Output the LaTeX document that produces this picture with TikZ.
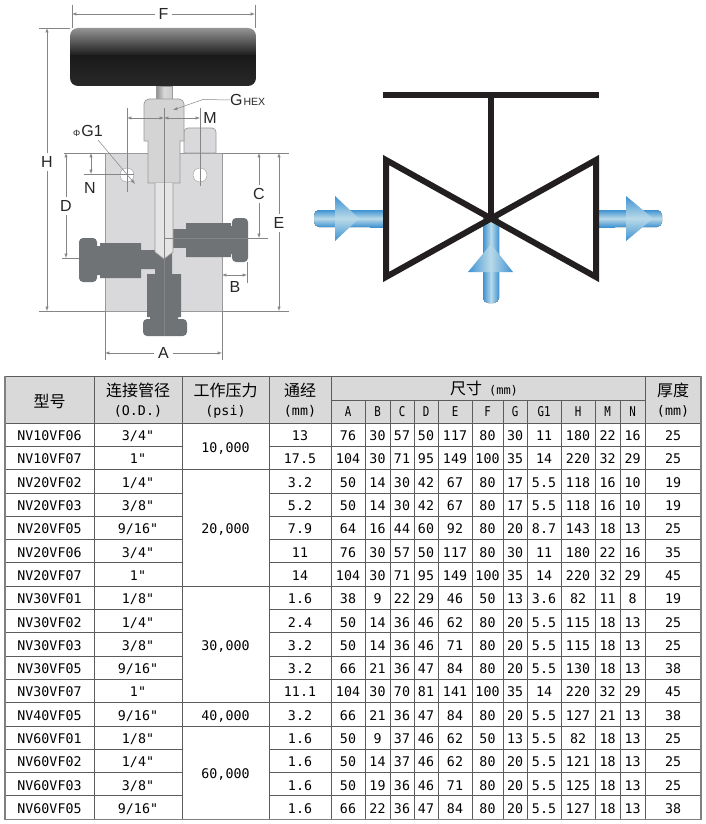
\documentclass[tikz,border=0pt]{standalone}
\usepackage{fontspec}
\setmainfont{Liberation Sans}
\newfontfamily\cjkfont{Noto Sans CJK SC}
\newfontfamily\tabfont{DejaVu Sans Mono}
\usetikzlibrary{arrows.meta}
\definecolor{bodygray}{HTML}{D9D9DB}
\definecolor{edgegray}{HTML}{9A9A9A}
\definecolor{dimgray}{HTML}{858585}
\definecolor{fitgray}{HTML}{6F7375}
\definecolor{gridgray}{HTML}{5C5C5C}
\definecolor{headgray}{HTML}{D9D9D9}
\definecolor{pipeblue}{HTML}{3F92D2}
\definecolor{pipelight}{HTML}{B9DAE8}
\definecolor{symblack}{HTML}{231F20}
\tikzset{
  dimline/.style={latex-latex,draw=dimgray,line width=.5pt},
  extline/.style={draw=dimgray,line width=.5pt},
  dimlabel/.style={fill=white,inner xsep=4pt,inner ysep=3pt,text=black!85,font=\fontsize{16}{16}\selectfont},
  freelabel/.style={inner sep=0pt,text=black!85,font=\fontsize{16}{16}\selectfont},
  fitting/.style={fill=fitgray,draw=none},
  bodypart/.style={fill=bodygray,draw=edgegray,line width=.7pt},
  gridline/.style={draw=gridgray,line width=.7pt},
  cellnum/.style={inner sep=0pt,text height=10pt,text depth=0pt,font=\tabfont\fontsize{13.3}{15}\selectfont},
  headcjk/.style={inner sep=0pt,font=\cjkfont\fontsize{16}{18}\selectfont},
  headcol/.style={inner sep=0pt,font=\tabfont\fontsize{13.5}{15}\selectfont},
  pipeh/.style={top color=pipeblue,bottom color=pipeblue,middle color=pipelight},
  pipev/.style={left color=pipeblue,right color=pipeblue,middle color=pipelight},
  symline/.style={draw=symblack,line width=6pt,miter limit=10},
}
\def\colx{{49.5,138,300,348,377.5,402,426,455,487.5,515,544,578,607.5,632.5,673}}
\begin{document}
\begin{tikzpicture}[x=1pt,y=-1pt]
\useasboundingbox (0,0) rectangle (705,824);
\fill[white] (0,0) rectangle (705,824);

\draw[bodypart] (105,153) rectangle (222,311);
\draw[bodypart] (184,153) -- (184,132) arc[start angle=180,end angle=270,radius=4] -- (212,128) arc[start angle=270,end angle=360,radius=4] -- (216,153) -- cycle;
\shade[left color=black!45,right color=black!20,middle color=black!15,draw=edgegray] (156,86) rectangle (172,99);
\draw[bodypart,fill=black!17] (148,141) -- (144,141) -- (144,104) arc[start angle=180,end angle=270,radius=5] -- (179,99) arc[start angle=270,end angle=360,radius=5] -- (184,141) -- (180,141) -- (180,183) -- (148,183) -- cycle;
\fill[fitgray] (140,250) rectangle (156,269) (155,250) rectangle (172,275);
\fill[fitgray] (173,229) rectangle (186,248);
\draw[bodypart,fill=black!10] (155,183) -- (155,252) -- (164,259) -- (173,252) -- (173,183);
\fill[fitting] (100,243) rectangle (141,278) (96,246) rectangle (101,275);
\fill[fitting,rounded corners=4pt] (79,238) rectangle (97,282);
\fill[fitting] (186,223) rectangle (231,257) (230,226) rectangle (234,254);
\fill[fitting,rounded corners=4pt] (232,218) rectangle (248,262);
\fill[fitting] (147,274) rectangle (181,317) (150,316) rectangle (178,320);
\fill[fitting,rounded corners=4pt] (143,319) rectangle (187,336);
\draw[draw=edgegray,fill=white] (127,175) circle[radius=7];
\draw[draw=edgegray,fill=white] (200,175) circle[radius=7];

\begin{scope}
\clip[rounded corners=8pt] (70,28) rectangle (256,86);
\shade[top color=black!42,bottom color=black!90] (70,28) rectangle (256,56);
\shade[top color=black!90,bottom color=black!84] (70,56) rectangle (256,86);
\end{scope}

\draw[extline]
(72,5) -- (72,28)
(255,5) -- (255,28)
(39,28) -- (70,28)
(39,311) -- (105,311)
(64,153) -- (105,153)
(222,153) -- (289,153)
(222,311) -- (289,311)
(84,174) -- (134,174)
(62,258) -- (79,258)
(165,238) -- (268,238)
(247,262) -- (247,283)
(105,311) -- (105,360)
(222,311) -- (222,360)
(127,108) -- (127,192)
(200,108) -- (200,186)
(164,108) -- (164,336)
;
\draw[dimline] (72,14) -- (255,14) node[midway,dimlabel] (labF) {F};
\draw[dimline] (47,28) -- (47,311);
\node[dimlabel] (labH) at (47,162) {H};
\draw[dimline] (91,153) -- (91,174);
\node[freelabel] (labN) at (90,188) {N};
\draw[dimline] (66,153) -- (66,258);
\node[dimlabel] (labD) at (66,206) {D};
\draw[dimline] (259,153) -- (259,238);
\node[dimlabel] (labC) at (259,194) {C};
\draw[dimline] (279,153) -- (279,311);
\node[dimlabel] (labE) at (279,223) {E};
\draw[dimline] (222,275) -- (247,275);
\node[freelabel] (labB) at (235,287) {B};
\draw[dimline] (105,353) -- (222,353) node[midway,dimlabel] (labA) {A};
\draw[dimline] (127,118) -- (164,118);
\draw[dimline] (164,118) -- (200,118);
\node[freelabel] (labM) at (210,118) {M};
\node[freelabel,anchor=west] (labG) at (230,100) {G\kern1pt\fontsize{10.5}{10}\selectfont HEX};
\coordinate (hexend) at (173,110);
\draw[-latex,draw=dimgray,line width=.5pt] (labG.west) -- (203,99.5) -- (hexend);
\node[freelabel,anchor=west] (labGone) at (73,131) {{\fontsize{9}{10}\selectfont Φ}\kern1pt G1};
\coordinate (holeend) at (135,184);
\draw[-latex,draw=dimgray,line width=.5pt] (98,140) -- (holeend);

\fill[pipeh,rounded corners=5pt] (314,210) -- (330,210) -- (385,210) -- (385,227) -- (330,227) -- (314,227) -- cycle;
\shade[pipeh] (370,210) rectangle (385,227);
\fill[pipeh,rounded corners=5pt] (597,210) -- (662,210) -- (662,227) -- (597,227) -- cycle;
\shade[pipeh] (597,210) rectangle (615,227);
\fill[pipev,rounded corners=5pt] (483,215) -- (499,215) -- (499,303) -- (483,303) -- cycle;
\shade[top color=pipeblue,bottom color=pipeblue,middle color=pipelight] (335,196) -- (359,218.5) -- (335,241) -- cycle;
\shade[top color=pipeblue,bottom color=pipeblue,middle color=pipelight] (626,196) -- (653,218.5) -- (626,241) -- cycle;
\shade[left color=pipeblue,right color=pipeblue,middle color=pipelight] (491,244) -- (513,272) -- (468,272) -- cycle;
\draw[symline] (386,160) -- (491,218.5) -- (386,277) -- cycle;
\draw[symline] (596,160) -- (491,218.5) -- (596,277) -- cycle;
\draw[symline] (491,95) -- (491,218);
\draw[symline] (383,95) -- (599,95);

\fill[headgray] (5,376) rectangle (701,423);
\foreach \r in {0,1,...,17} {
  \pgfmathsetmacro\ly{423+23.3*\r}
  \draw[gridline] (5,\ly) -- (182,\ly) (269,\ly) -- (701,\ly);
}
\draw[gridline] (182,423) -- (269,423) (182,469.6) -- (269,469.6) (182,586.1) -- (269,586.1)
(182,702.6) -- (269,702.6) (182,725.9) -- (269,725.9);
\draw[gridline] (5,376) -- (701,376) (331,400) -- (645,400);
\foreach \vx in {94,182,269,331,645} {
  \draw[gridline] (\vx,376) -- (\vx,819.1);
}
\foreach \vx in {365,390,414,438,472,503,527,561,595,620} {
  \draw[gridline] (\vx,400) -- (\vx,819.1);
}
\draw[draw=black!50,line width=1.2pt] (5,376) -- (5,819.1) -- (701,819.1) -- (701,376);

\node[headcjk] (hName) at (49.5,401) {型号};
\node[headcjk] (hOd) at (138,390) {连接管径};
\node[cellnum] (hOdu) at (138,410) {(O.D.)};
\node[headcjk] (hPress) at (225.5,390) {工作压力};
\node[cellnum] (hPressu) at (225.5,410) {(psi)};
\node[headcjk] (hBore) at (300,390) {通经};
\node[cellnum] (hBoreu) at (300,410) {(mm)};
\node[headcjk] (hSize) at (484,389) {尺寸\hspace{7pt}{\tabfont\fontsize{12}{14}\selectfont(mm)}};
\node[headcjk] (hThick) at (673,390) {厚度};
\node[cellnum] (hThicku) at (673,410) {(mm)};
\foreach \lab [count=\c from 4] in {A,B,C,D,E,F,G,G1,H,M,N} {
  \pgfmathsetmacro\cx{\colx[\c-1]}
  \node[headcol] (hcol\c) at (\cx,412) {\scalebox{.8}[1]{\lab}};
}

\node[cellnum] (pTen) at (225.5,447.3) {10,000};
\node[cellnum] (pTwenty) at (225.5,528.9) {20,000};
\node[cellnum] (pThirty) at (225.5,645.4) {30,000};
\node[cellnum] (pForty) at (225.5,715.3) {40,000};
\node[cellnum] (pSixty) at (225.5,773.5) {60,000};

\foreach \cells [count=\r] in {
{NV10VF06,3/4",13,76,30,57,50,117,80,30,11,180,22,16,25},
{NV10VF07,1",17.5,104,30,71,95,149,100,35,14,220,32,29,25},
{NV20VF02,1/4",3.2,50,14,30,42,67,80,17,5.5,118,16,10,19},
{NV20VF03,3/8",5.2,50,14,30,42,67,80,17,5.5,118,16,10,19},
{NV20VF05,9/16",7.9,64,16,44,60,92,80,20,8.7,143,18,13,25},
{NV20VF06,3/4",11,76,30,57,50,117,80,30,11,180,22,16,35},
{NV20VF07,1",14,104,30,71,95,149,100,35,14,220,32,29,45},
{NV30VF01,1/8",1.6,38,9,22,29,46,50,13,3.6,82,11,8,19},
{NV30VF02,1/4",2.4,50,14,36,46,62,80,20,5.5,115,18,13,25},
{NV30VF03,3/8",3.2,50,14,36,46,71,80,20,5.5,115,18,13,25},
{NV30VF05,9/16",3.2,66,21,36,47,84,80,20,5.5,130,18,13,38},
{NV30VF07,1",11.1,104,30,70,81,141,100,35,14,220,32,29,45},
{NV40VF05,9/16",3.2,66,21,36,47,84,80,20,5.5,127,21,13,38},
{NV60VF01,1/8",1.6,50,9,37,46,62,50,13,5.5,82,18,13,25},
{NV60VF02,1/4",1.6,50,14,37,46,62,80,20,5.5,121,18,13,25},
{NV60VF03,3/8",1.6,50,19,36,46,71,80,20,5.5,125,18,13,25},
{NV60VF05,9/16",1.6,66,22,36,47,84,80,20,5.5,127,18,13,38}} {
  \pgfmathsetmacro\cy{423+23.3*(\r-.5)+1}
  \foreach \cell [count=\c] in \cells {
    \pgfmathsetmacro\cx{\colx[\c-1]}
    \node[cellnum] (cell\r-\c) at (\cx,\cy) {\cell};
  }
}
\end{tikzpicture}
\end{document}
